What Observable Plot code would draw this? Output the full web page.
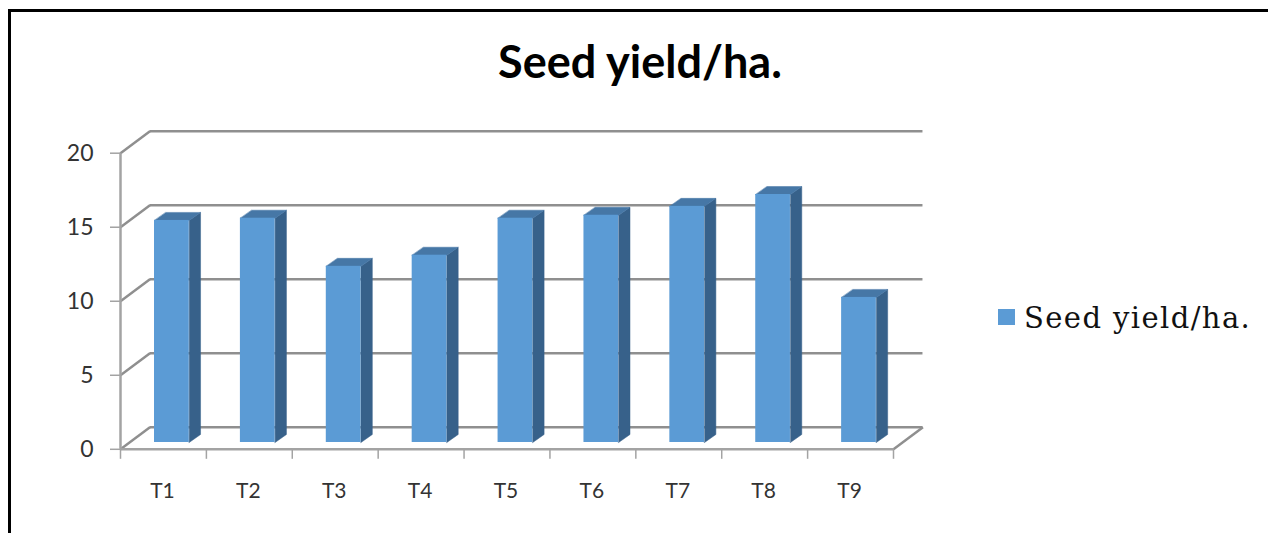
<!DOCTYPE html>
<html>
<head>
<meta charset="utf-8">
<script src="https://cdn.jsdelivr.net/npm/d3@7"></script>
<script src="https://cdn.jsdelivr.net/npm/@observablehq/plot@0.6"></script>
<style>
  html, body { margin: 0; padding: 0; background: #fff; }
  body { width: 1268px; height: 533px; overflow: hidden; position: relative; }
  #frame { position: absolute; left: 8px; top: 9px; right: -10px; bottom: -10px;
           border-top: 3px solid #000; border-left: 3px solid #000; }
  #title { position: absolute; left: 340px; width: 600px; top: 34px; margin: 0; text-align: center;
           font: 700 45px/54px Lato, sans-serif; color: #000; }
  #legend { position: absolute; left: 998px; top: 298px; white-space: nowrap;
            font: 29px/40px "DejaVu Serif", serif; letter-spacing: 1.4px; color: #111; }
  #legend i { position: absolute; left: 0; top: 11px; width: 17px; height: 16px; background: #5B9BD5; }
  #legend span { position: absolute; left: 26px; top: 0; }
  #chart { position: absolute; left: 0; top: 0; }
  #chart svg { background: transparent; }
</style>
</head>
<body>
<div id="chart"></div>
<div id="frame"></div>
<h1 id="title">Seed yield/ha.</h1>
<div id="legend"><i></i><span>Seed yield/ha.</span></div>
<script>
const categories = ["T1","T2","T3","T4","T5","T6","T7","T8","T9"];
const seedYield = [15.0, 15.15, 11.9, 12.65, 15.15, 15.35, 15.95, 16.75, 9.8];
const yTicks = [0, 5, 10, 15, 20];

// Oblique projection, in data units
const wallDX = 0.343, wallDY = 1.486;   // back wall
const barLeft = 0.396, barWidth = 0.404, barLift = 0.46; // bar front face
const barDX = 0.132, barDY = 0.54;      // bar depth

const rows = categories.map((c, i) => ({c, v: seedYield[i], x1: i + barLeft, x2: i + barLeft + barWidth}));
const sideFaces = rows.flatMap(r => [
  {c: r.c, x: r.x2, y: barLift},
  {c: r.c, x: r.x2 + barDX, y: barLift + barDY},
  {c: r.c, x: r.x2 + barDX, y: barLift + r.v + barDY},
  {c: r.c, x: r.x2, y: barLift + r.v}
]);
const topFaces = rows.flatMap(r => [
  {c: r.c, x: r.x1, y: barLift + r.v},
  {c: r.c, x: r.x2, y: barLift + r.v},
  {c: r.c, x: r.x2 + barDX, y: barLift + r.v + barDY},
  {c: r.c, x: r.x1 + barDX, y: barLift + r.v + barDY}
]);
const grid = "#8f8f8f", axisGray = "#a3a3a3", textGray = "#333333";

const plot = Plot.plot({
  width: 1268, height: 533,
  marginLeft: 120, marginRight: 375, marginTop: 152.7, marginBottom: 84.2,
  x: {type: "linear", domain: [0, 9]},
  y: {type: "linear", domain: [0, 20]},
  style: {background: "transparent", fontFamily: "Lato, sans-serif"},
  marks: [
    // back wall grid lines and wall diagonals
    Plot.ruleY(yTicks, {y: d => d + wallDY, x1: wallDX, x2: 9 + wallDX, stroke: grid, strokeWidth: 2.5}),
    Plot.link(yTicks, {x1: 0, y1: d => d, x2: wallDX, y2: d => d + wallDY, stroke: grid, strokeWidth: 2.5}),
    Plot.link([0], {x1: 9, y1: 0, x2: 9 + wallDX, y2: wallDY, stroke: grid, strokeWidth: 2.5}),
    // left wall and floor front edge
    Plot.ruleX([0], {y1: 0, y2: 20, stroke: axisGray, strokeWidth: 2.5}),
    Plot.ruleY([0], {x1: 0, x2: 9, stroke: axisGray, strokeWidth: 2.5}),
    // axes
    Plot.axisY({ticks: yTicks, tickSize: 10, tickPadding: 17, label: null, stroke: axisGray, strokeWidth: 1.5, color: textGray, fontSize: 23, fontFamily: "Lato, sans-serif"}),
    Plot.axisX({ticks: d3.range(0, 10), tickSize: 10, tickFormat: () => "", label: null, stroke: axisGray, strokeWidth: 1.5}),
    Plot.axisX({ticks: categories.map((c, i) => i + 0.5), tickSize: 0, tickPadding: 34,
                tickFormat: d => categories[Math.floor(d)], label: null, color: textGray, fontSize: 21, dx: -1, fontFamily: "Lato, sans-serif"}),
    // 3-D bars
    Plot.line(sideFaces, {x: "x", y: "y", z: "c", fill: "#37618A", stroke: "#37618A", strokeWidth: 0.5, curve: "linear-closed"}),
    Plot.line(topFaces, {x: "x", y: "y", z: "c", fill: "#4677A6", stroke: "#4677A6", strokeWidth: 0.5, curve: "linear-closed"}),
    Plot.rectY(rows, {x1: "x1", x2: "x2", y1: barLift, y2: d => barLift + d.v, fill: "#5B9BD5"})
  ]
});
document.getElementById("chart").appendChild(plot);
</script>
</body>
</html>
